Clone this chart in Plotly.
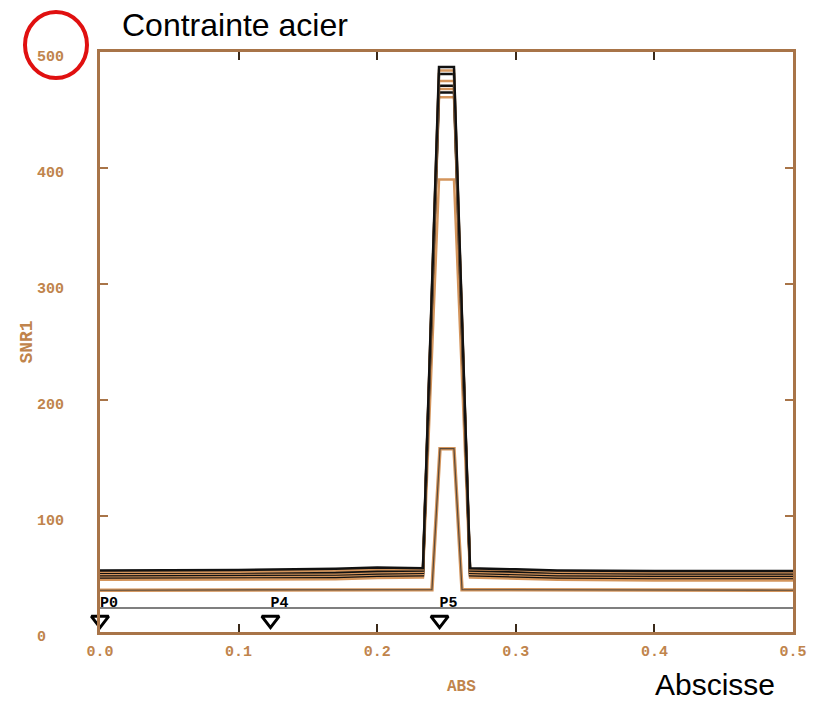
import plotly.graph_objects as go

# ---- data ----
x_peak = [0.0, 0.10, 0.17, 0.20, 0.233, 0.2446, 0.2554, 0.267, 0.30, 0.33, 0.40, 0.50]
band_colors = ["black", "orange", "black", "orange", "black", "orange", "black", "orange", "orange"]
band_1 = [53.0, 53.5, 54.5, 55.5, 55.0, 487, 487, 55.0, 54.0, 53.0, 52.5, 52.5]
band_2 = [52.0, 52.0, 53.0, 54.0, 54.0, 484, 484, 54.0, 53.5, 52.0, 51.5, 51.5]
band_3 = [51.0, 51.0, 51.5, 52.5, 53.0, 481, 481, 53.0, 52.0, 51.0, 50.5, 50.5]
band_4 = [50.0, 50.0, 50.5, 51.5, 52.0, 475, 475, 52.0, 51.0, 50.0, 49.5, 49.5]
band_5 = [49.0, 49.0, 49.5, 50.5, 51.0, 471, 471, 51.0, 50.0, 49.0, 48.5, 48.5]
band_6 = [48.0, 48.0, 48.5, 49.5, 50.0, 468, 468, 50.0, 49.0, 48.0, 47.5, 47.5]
band_7 = [47.0, 47.0, 47.5, 48.5, 49.0, 465, 465, 49.0, 48.0, 47.0, 46.5, 46.5]
band_8 = [46.0, 46.0, 46.5, 47.5, 48.0, 461, 461, 48.0, 47.0, 46.0, 45.5, 45.5]
band_9 = [45.0, 45.0, 45.5, 46.5, 47.0, 390, 390, 47.0, 46.0, 45.0, 44.5, 44.5]
bands = [band_1, band_2, band_3, band_4, band_5, band_6, band_7, band_8, band_9]

x_low = [0.0, 0.10, 0.2395, 0.2453, 0.2554, 0.2612, 0.40, 0.50]
y_low = [36.0, 36.0, 36.5, 158, 158, 36.5, 36.0, 36.0]

x_flat = [0.0, 0.5]
y_flat = [20.6, 20.6]

point_x = [0.0, 0.123, 0.245]
point_names = ["P0", "P4", "P5"]
point_marker_y = [10.3, 10.3, 10.3]
point_label_y = [25.0, 25.0, 25.0]

x_ticks = [0.0, 0.1, 0.2, 0.3, 0.4, 0.5]
x_ticktext = ["0.0", "0.1", "0.2", "0.3", "0.4", "0.5"]
y_ticks = [0, 100, 200, 300, 400, 500]
y_ticktext = ["0\u00a0\u00a0", "100", "200", "300", "400", "500"]

# ---- styles ----
ORANGE = "#d4955c"
AXIS = "#a87448"
LABEL = "#c0844c"
MONO = "Liberation Mono"

# page body has an 8 px margin in the browser
W, H = 800, 692
OFF = 8

fig = go.Figure()

for ys, c in zip(bands[::-1], band_colors[::-1]):
    fig.add_trace(go.Scatter(
        x=x_peak, y=ys, mode="lines",
        line=dict(color=("#111111" if c == "black" else ORANGE), width=2.5),
        showlegend=False, hoverinfo="skip"))

fig.add_trace(go.Scatter(x=x_low, y=y_low, mode="lines",
                         line=dict(color=ORANGE, width=3.5), showlegend=False, hoverinfo="skip"))
fig.add_trace(go.Scatter(x=x_low, y=y_low, mode="lines",
                         line=dict(color="#5a4a3a", width=1.2), showlegend=False, hoverinfo="skip"))
fig.add_trace(go.Scatter(x=x_flat, y=y_flat, mode="lines",
                         line=dict(color="#555555", width=1.5), showlegend=False, hoverinfo="skip"))

fig.add_trace(go.Scatter(x=point_x, y=point_marker_y, mode="markers",
                         marker=dict(symbol="triangle-down-open", size=15, color="black",
                                     line=dict(width=3, color="black")),
                         showlegend=False, hoverinfo="skip", cliponaxis=False))
fig.add_trace(go.Scatter(x=point_x, y=point_label_y, mode="text", text=point_names,
                         textposition="middle right",
                         textfont=dict(family=MONO, size=15, color="black", weight="bold"),
                         showlegend=False, hoverinfo="skip", cliponaxis=False))

fig.update_layout(
    width=W, height=H,
    margin=dict(l=100 - OFF, r=W - (793 - OFF), t=52 - OFF, b=H - (632 - OFF), autoexpand=False),
    paper_bgcolor="white", plot_bgcolor="white",
    title=dict(text="Contrainte acier", x=(122 - OFF) / W, xref="container", xanchor="left",
               y=1 - (25 - OFF) / H, yanchor="middle",
               font=dict(family="Liberation Sans", size=32, color="black")),
    xaxis=dict(range=[0, 0.5], tickvals=x_ticks, ticktext=x_ticktext, automargin=False,
               ticks="inside", ticklen=8, tickwidth=2, tickcolor="#3a2a1a", mirror="ticks",
               showline=True, linecolor=AXIS, linewidth=3,
               showgrid=False, zeroline=False,
               tickfont=dict(family=MONO, size=15, color=LABEL, weight="bold"),
               ticklabelstandoff=3),
    yaxis=dict(range=[0, 500], tickvals=y_ticks, ticktext=y_ticktext, automargin=False,
               ticks="inside", ticklen=8, tickwidth=2, tickcolor=AXIS, mirror="ticks",
               showline=True, linecolor=AXIS, linewidth=3,
               showgrid=False, zeroline=True, zerolinecolor="#4a3a2a", zerolinewidth=2,
               tickfont=dict(family=MONO, size=15, color=LABEL, weight="bold"),
               ticklabelstandoff=30, ticklabelshift=4,
               title=dict(text="SNR1", standoff=0,
                          font=dict(family=MONO, size=18, color=LABEL, weight="bold"))),
    annotations=[
        dict(text="ABS", xref="paper", yref="paper", x=(461 - 100) / 693, y=(632 - 687) / 580,
             xanchor="center", yanchor="middle", showarrow=False,
             font=dict(family=MONO, size=16, color=LABEL, weight="bold")),
        dict(text="Abscisse", xref="paper", yref="paper", x=(653 - 100) / 693, y=(632 - 684) / 580,
             xanchor="left", yanchor="middle", showarrow=False,
             font=dict(family="Liberation Sans", size=30, color="black")),
    ],
    shapes=[
        dict(type="circle", xref="paper", yref="paper",
             x0=(25 - 100) / 693, x1=(87 - 100) / 693,
             y0=(632 - 78) / 580, y1=(632 - 12) / 580,
             line=dict(color="#e01010", width=4)),
    ],
)

fig.write_html("out.html")
